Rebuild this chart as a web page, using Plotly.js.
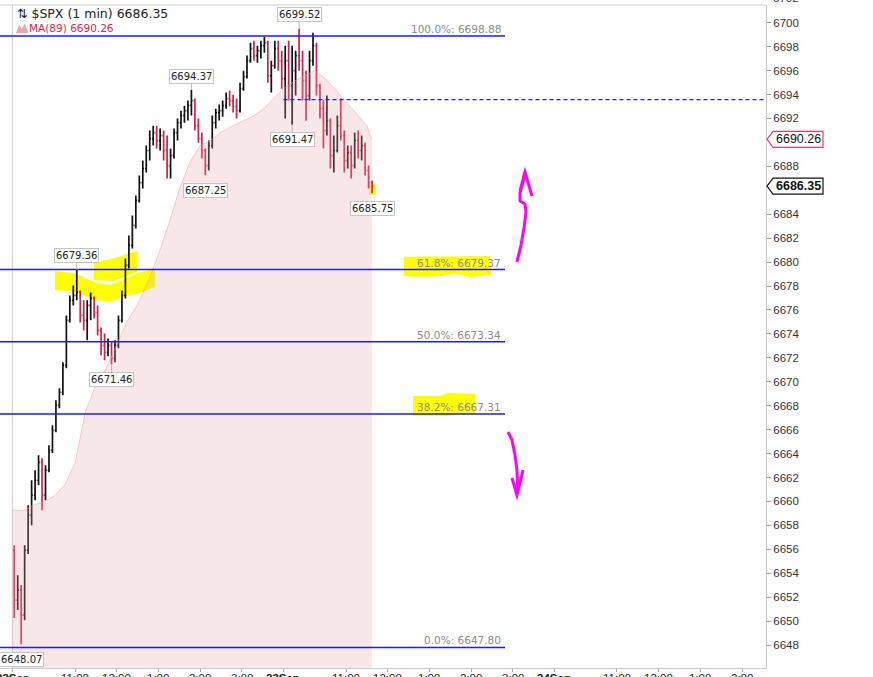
<!DOCTYPE html>
<html><head><meta charset="utf-8">
<script src="https://cdn.plot.ly/plotly-3.0.1.min.js"></script>
<style>html,body{margin:0;padding:0;background:#fff;overflow:hidden}#chart{width:873px;height:677px}</style>
</head><body><div id="chart"></div>
<script>
// ---- DATA (5-minute bars; minute 0 = 22Sep 9:30) ----
const barMinutes = 5;
const opens = [6655.93,6651.75,6652.59,6650.50,6655.93,6658.85,6660.52,6661.77,6663.27,6660.52,
6662.61,6664.27,6665.94,6668.03,6669.12,6671.37,6675.13,6676.80,6677.21,6677.46,
6675.54,6675.13,6676.38,6676.96,6675.79,6674.29,6673.04,6672.45,6673.04,6671.95,
6673.04,6675.13,6677.21,6679.72,6681.39,6683.06,6685.14,6686.64,6687.81,6689.32,
6690.32,6690.82,6690.15,6690.57,6689.32,6688.06,6688.90,6690.82,6691.65,6692.24,
6692.65,6693.07,6693.49,6691.40,6690.32,6689.32,6688.06,6689.73,6691.65,6692.49,
6692.65,6693.07,6693.66,6693.49,6692.99,6692.65,6694.49,6695.49,6696.83,6697.83,
6697.25,6697.66,6698.08,6698.33,6695.58,6696.41,6697.83,6696.83,6695.33,6696.83,
6694.74,6695.99,6697.25,6696.83,6695.16,6693.91,6696.83,6698.08,6694.74,6692.82,
6690.99,6691.82,6688.90,6689.32,6691.40,6690.57,6688.48,6689.15,6688.06,6690.15,
6689.32,6689.73,6687.65,6686.64];
const highs = [6656.34,6653.84,6653.01,6656.34,6659.68,6661.77,6662.61,6663.86,6663.61,6663.02,
6664.69,6666.36,6668.45,6669.45,6671.62,6675.54,6677.21,6678.05,6679.36,6677.63,
6676.80,6676.80,6677.46,6677.13,6676.38,6674.54,6674.04,6673.62,6673.30,6673.46,
6675.54,6677.63,6680.30,6682.22,6683.89,6685.56,6687.23,6688.48,6689.73,6690.99,
6691.40,6691.40,6691.15,6690.99,6690.57,6689.48,6691.15,6691.99,6692.65,6693.07,
6693.49,6694.37,6693.66,6691.99,6690.82,6689.48,6690.15,6692.24,6692.82,6693.16,
6693.49,6694.16,6694.32,6693.99,6693.66,6694.99,6695.99,6697.25,6698.33,6698.50,
6698.08,6698.50,6698.83,6698.50,6696.83,6698.50,6698.50,6697.66,6698.08,6698.50,
6698.08,6697.66,6699.52,6697.66,6695.99,6697.66,6699.17,6698.33,6694.90,6693.49,
6693.91,6691.99,6690.57,6692.24,6693.66,6690.99,6689.73,6689.73,6690.82,6690.99,
6690.57,6689.98,6688.06,6686.81];
const lows = [6650.25,6650.92,6648.07,6650.08,6655.60,6658.01,6660.10,6661.35,6659.27,6660.10,
6662.44,6664.05,6665.78,6667.78,6668.87,6671.12,6674.96,6676.38,6676.80,6674.96,
6674.29,6673.46,6675.13,6675.29,6673.87,6672.20,6671.79,6672.12,6671.46,6671.62,
6672.79,6674.96,6676.96,6679.47,6681.14,6682.80,6684.98,6686.14,6687.48,6688.48,
6689.73,6689.48,6689.32,6688.48,6686.98,6686.98,6688.65,6690.15,6691.15,6691.65,
6691.82,6692.24,6690.99,6689.98,6688.65,6687.25,6687.65,6689.48,6691.15,6691.82,
6692.15,6692.82,6692.99,6692.49,6691.99,6692.49,6694.32,6695.33,6696.66,6696.83,
6696.66,6697.00,6697.50,6694.99,6694.16,6696.16,6695.99,6694.49,6691.99,6693.49,
6691.47,6693.91,6695.99,6693.49,6691.80,6693.49,6696.41,6693.91,6691.99,6689.48,
6690.57,6687.81,6687.48,6689.15,6690.15,6687.48,6687.81,6686.98,6687.81,6688.65,
6688.48,6687.23,6686.14,6685.75];
const closes = [6651.75,6652.59,6650.50,6655.93,6658.85,6660.52,6661.77,6663.27,6660.52,6662.61,
6664.27,6665.94,6668.03,6669.12,6671.37,6675.13,6676.80,6677.21,6677.46,6675.54,
6675.13,6676.38,6676.96,6675.79,6674.29,6673.04,6672.45,6673.04,6671.95,6673.04,
6675.13,6677.21,6679.72,6681.39,6683.06,6685.14,6686.64,6687.81,6689.32,6690.32,
6690.82,6690.15,6690.57,6689.32,6688.06,6688.90,6690.82,6691.65,6692.24,6692.65,
6693.07,6693.49,6691.40,6690.32,6689.32,6688.06,6689.73,6691.65,6692.49,6692.65,
6693.07,6693.66,6693.49,6692.99,6692.65,6694.49,6695.49,6696.83,6697.83,6697.25,
6697.66,6698.08,6698.33,6695.58,6696.41,6697.83,6696.83,6695.33,6696.83,6694.74,
6695.99,6697.25,6696.83,6695.16,6693.91,6696.83,6698.08,6694.74,6692.82,6690.99,
6691.82,6688.90,6689.32,6691.40,6690.57,6688.48,6689.15,6688.06,6690.15,6689.32,
6689.73,6687.65,6686.64,6686.35];

// MA(89)
const maTimes  = [0,15,30,45,60,75,90,105,120,135,150,165,180,195,210,225,240,255,270,285,300,315,330,345,360,375,390,405,420,435,450,465,480,495,510,517];
const maValues = [6659.27,6659.22,6659.68,6659.97,6660.44,6661.35,6663.19,6667.53,6669.70,6671.12,6673.12,6675.04,6676.46,6678.38,6680.63,6683.22,6686.06,6688.31,6689.73,6690.15,6690.82,6691.32,6691.74,6692.15,6692.74,6693.66,6694.49,6695.08,6695.58,6695.99,6695.33,6694.41,6693.41,6692.49,6691.40,6690.26];

// Fibonacci retracement
const fibPct    = ['100.0%','61.8%','50.0%','38.2%','0.0%'];
const fibLevels = [6698.88,6679.37,6673.34,6667.31,6647.80];
const dashedLevel = 6693.57;

// axis ticks (minutes since 22Sep 9:30)
const xTickVals = [0,90,150,210,270,330,390,480,540,600,660,720,780,870,930,990,1050];
const xTickText = ['<b>22Sep</b>','11:00','12:00','1:00','2:00','3:00','<b>23Sep</b>','11:00','12:00','1:00','2:00','3:00','<b>24Sep</b>','11:00','12:00','1:00','2:00'];
const yTickVals = [6648,6650,6652,6654,6656,6658,6660,6662,6664,6666,6668,6670,6672,6674,6676,6678,6680,6682,6684,6688,6692,6694,6696,6698,6700];

// marked highs / lows: [bar index, 'high'|'low']
const marks = [[82,'high'],[51,'high'],[18,'high'],[80,'low'],[55,'low'],[103,'low'],[28,'low'],[2,'low']];

const lastPrice = 6686.35;
const maLast = 6690.26;

// ---- geometry ----
const times = opens.map((_, i) => i * barMinutes + barMinutes / 2);
const xRange = [-18, 1084.5];
const yRange = [6646.08, 6701.48];
const PL = 0, PW = 766, PT = 5, PH = 663;
const px = x => (x - PL) / PW;
const py = y => (PT + PH - y) / PH;
const path = (pts, close) => pts.map((p, i) => (i ? 'L' : 'M') + px(p[0]).toFixed(4) + ',' + py(p[1]).toFixed(4)).join(' ') + (close ? ' Z' : '');
const yPaper = v => (v - yRange[0]) / (yRange[1] - yRange[0]);

const traces = [
  {type:'scatter', mode:'lines', x: maTimes, y: maValues, fill:'tozeroy',
   fillcolor:'rgba(230,165,172,0.27)', line:{color:'rgba(232,160,168,0.5)', width:1}, hoverinfo:'skip'},
  {type:'ohlc', x: times, open: opens, high: highs, low: lows, close: closes,
   increasing:{line:{color:'#111111', width:1.7}}, decreasing:{line:{color:'#d81f4a', width:1.7}},
   tickwidth:0.35, hoverinfo:'skip'}
];

const shapes = [];
const annotations = [];

// yellow highlighter marks (user drawing)
const yellow = [
  [[55,271],[73,273],[97,283],[110,285],[123,280],[140,272],[155,269],[155,287],[140,293],[123,297],[110,302],[95,300],[77,292],[55,290]],
  [[94,263],[115,258],[130,253],[137,251],[137,272],[128,276],[113,281],[94,280]],
  [[404,257],[490,256],[491,275],[470,277],[455,274],[440,276],[420,277],[404,276]],
  [[413,396],[440,396],[448,393],[475,394],[475,414],[446,416],[413,416]],
  [[369,184],[376,184],[376,195],[369,195]]
];
yellow.forEach(p => shapes.push({type:'path', xref:'paper', yref:'paper', path: path(p, true),
  fillcolor:'#ffff00', line:{width:0}, layer:'below'}));

// session start line, top border
shapes.push({type:'line', xref:'x', yref:'paper', x0:0, x1:0, y0:0, y1:1, line:{color:'#d0d0d0', width:1}, layer:'below'});
shapes.push({type:'line', xref:'paper', yref:'paper', x0:0, x1:1, y0:1, y1:1, line:{color:'#cccccc', width:1}});

// fib lines + labels
const fibEnd = 708.8;
fibLevels.forEach((lv, i) => {
  shapes.push({type:'line', xref:'x', yref:'y', x0:xRange[0], x1:fibEnd, y0:lv, y1:lv, line:{color:'#1c1cff', width:1.5}});
  annotations.push({xref:'x', yref:'y', x:fibEnd, y:lv, xanchor:'right', yanchor:'bottom', xshift:-2, yshift:-1,
    showarrow:false, text: fibPct[i] + ': ' + lv.toFixed(2), font:{family:'DejaVu Sans', size:10.5, color:'#8c8c8c'}});
});
shapes.push({type:'line', xref:'x', yref:'y', x0:390, x1:xRange[1], y0:dashedLevel, y1:dashedLevel, line:{color:'#1c1cff', width:1.4, dash:'4px,3px'}});

// magenta arrows (user drawing)
const mag = {color:'#ff00ff', width:3};
shapes.push({type:'path', xref:'paper', yref:'paper', path: path([[517,262],[521,245],[524,228],[526,212],[525,204],[520,201],[520,193],[523,182],[525,172]]), line:mag});
shapes.push({type:'path', xref:'paper', yref:'paper', path: path([[520,191],[525,172],[532,196]]), line:mag});
shapes.push({type:'path', xref:'paper', yref:'paper', path: path([[508,432],[512,440],[515,455],[517,470],[518,494]]), line:mag});
shapes.push({type:'path', xref:'paper', yref:'paper', path: path([[512,478],[517,495],[523,470]]), line:mag});

// swing labels
marks.forEach(m => {
  const i = m[0], hi = m[1] === 'high';
  const v = hi ? highs[i] : lows[i];
  annotations.push({xref:'x', yref:'y', x: times[i], y: v, text: v.toFixed(2), showarrow:true, arrowhead:0,
    arrowcolor:'#b8b8b8', arrowwidth:1, ax:0, ay: hi ? -14 : 15, standoff:0,
    bgcolor:'#ffffff', bordercolor:'#c4c4c4', borderwidth:1, borderpad:1,
    font:{family:'DejaVu Sans', size:10, color:'#222'}});
});

// right-axis price boxes
function priceBox(v, border, bold) {
  shapes.push({type:'path', xref:'paper', yref:'paper', xsizemode:'pixel', ysizemode:'pixel', xanchor:1, yanchor:yPaper(v),
    path:'M1,0 L7,8 L57,8 L57,-8 L7,-8 Z', fillcolor:'#ffffff', line:{color:border, width:1.2}});
  annotations.push({xref:'paper', yref:'y', x:1, y:v, xanchor:'center', xshift:32, showarrow:false,
    text: bold ? '<b>' + v.toFixed(2) + '</b>' : v.toFixed(2),
    font:{family:'Liberation Sans, Arial', size:12.5, color:'#111'}});
}
priceBox(maLast, '#e0406a', false);
priceBox(lastPrice, '#111111', true);

// x tick labels (cut by the bottom edge as in the reference)
xTickVals.forEach((t, i) => annotations.push({xref:'x', yref:'paper', x:t, y:py(670), xanchor:'center', yanchor:'top',
  showarrow:false, text:xTickText[i], font:{family:'Liberation Sans, Arial', size:11.5, color:'#222'}}));

// clipped top tick label
annotations.push({xref:'paper', yref:'paper', x:1, y:py(-2), xanchor:'left', yanchor:'middle', xshift:5, showarrow:false,
  text:'6702', font:{family:'Liberation Sans, Arial', size:11.5, color:'#333'}});

// legend text
annotations.push({xref:'paper', yref:'paper', x:px(15), y:py(14), xanchor:'left', yanchor:'middle', showarrow:false,
  text:'⇅ $SPX (1 min) ' + lastPrice.toFixed(2), font:{family:'DejaVu Sans', size:12.5, color:'#222'}});
annotations.push({xref:'paper', yref:'paper', x:px(27), y:py(28), xanchor:'left', yanchor:'middle', showarrow:false,
  text:'MA(89) ' + maLast.toFixed(2), font:{family:'DejaVu Sans', size:10.5, color:'#dc1f48'}});
shapes.push({type:'path', xref:'paper', yref:'paper', path: path([[16,33],[19,25],[22,29],[25,23],[28,33]], true),
  fillcolor:'#f2a0b2', line:{width:0}});

const layout = {
  width:873, height:677, margin:{l:PL, r:873-PL-PW, t:PT, b:677-PT-PH, pad:0},
  paper_bgcolor:'#ffffff', plot_bgcolor:'#ffffff', showlegend:false, dragmode:false,
  xaxis:{range:xRange, tickmode:'array', tickvals:xTickVals, showticklabels:false, ticks:'outside', ticklen:3, tickcolor:'#aaa',
    showgrid:false, zeroline:false, showline:true, linecolor:'#c8c8c8', automargin:false, fixedrange:true,
    rangeslider:{visible:false}},
  yaxis:{side:'right', range:yRange, tickmode:'array', tickvals:yTickVals, tickformat:'d', ticks:'outside', ticklen:4, tickcolor:'#999',
    showgrid:false, zeroline:false, showline:true, linecolor:'#c8c8c8', automargin:false, fixedrange:true,
    tickfont:{family:'Liberation Sans, Arial', size:11.5, color:'#333'}},
  shapes: shapes, annotations: annotations
};
Plotly.newPlot('chart', traces, layout, {staticPlot:true, displayModeBar:false});
</script></body></html>
